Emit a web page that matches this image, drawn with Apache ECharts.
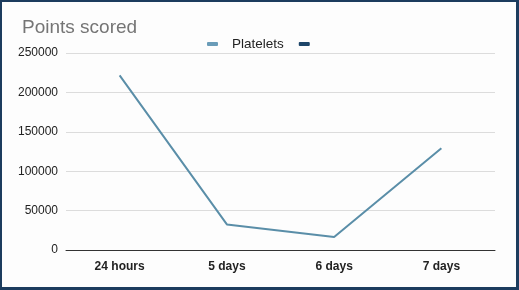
<!DOCTYPE html>
<html>
<head>
<meta charset="utf-8">
<script src="https://cdn.jsdelivr.net/npm/echarts@6/dist/echarts.min.js"></script>
<style>
    html, body { margin: 0; padding: 0; background: #ffffff; }
    #wrap { width: 519px; height: 290px; box-sizing: border-box; border: 2px solid #1c3c5e; border-right-width: 3px; border-bottom-width: 3px; background: #fdfdfd; }
    #chart { width: 514px; height: 285px; }
</style>
</head>
<body>
<div id="wrap"><div id="chart"></div></div>
<script>
    // 数据
    var categories = ['24 hours', '5 days', '6 days', '7 days'];
    var plateletValues = [221500, 32500, 16500, 129000];
    var yTicks = [0, 50000, 100000, 150000, 200000, 250000];

    var chart = echarts.init(document.getElementById('chart'));

    chart.setOption({
        animation: false,
        title: {
            text: 'Points scored',
            left: 20,
            top: 16,
            padding: 0,
            textStyle: {
                fontFamily: 'Liberation Sans',
                fontSize: 19,
                fontWeight: 'normal',
                color: '#757575'
            }
        },
        legend: {
            top: 30,
            left: 200,
            icon: 'roundRect',
            itemWidth: 11,
            itemHeight: 4,
            itemGap: 15,
            data: [{name: 'Platelets'}, {name: ' '}],
            textStyle: {
                fontFamily: 'Liberation Sans',
                fontSize: 13.5,
                color: '#222',
                padding: [0, 0, 0, 9]
            }
        },
        grid: {
            left: 64,
            right: 21,
            top: 51,
            bottom: 37
        },
        xAxis: {
            type: 'category',
            data: categories,
            boundaryGap: true,
            axisTick: { show: false },
            axisLine: { lineStyle: { color: '#333', width: 1 } },
            axisLabel: {
                margin: 11,
                fontFamily: 'Liberation Sans',
                fontSize: 12,
                fontWeight: 'bold',
                color: '#222'
            }
        },
        yAxis: {
            type: 'value',
            min: yTicks[0],
            max: yTicks[yTicks.length - 1],
            interval: 50000,
            axisLine: { show: false },
            axisTick: { show: false },
            splitLine: { lineStyle: { color: '#dcdcdc' } },
            axisLabel: {
                margin: 8,
                fontFamily: 'Liberation Sans',
                fontSize: 12,
                color: '#222',
                formatter: function (v) { return String(v); }
            }
        },
        series: [{
            name: 'Platelets',
            type: 'line',
            data: plateletValues,
            symbol: 'none',
            color: '#6a9cb8',
            lineStyle: { color: '#5a8ea8', width: 2 }
        }, {
            name: ' ',
            type: 'line',
            data: [],
            symbol: 'none',
            color: '#1d4569'
        }]
    });
</script>
</body>
</html>
